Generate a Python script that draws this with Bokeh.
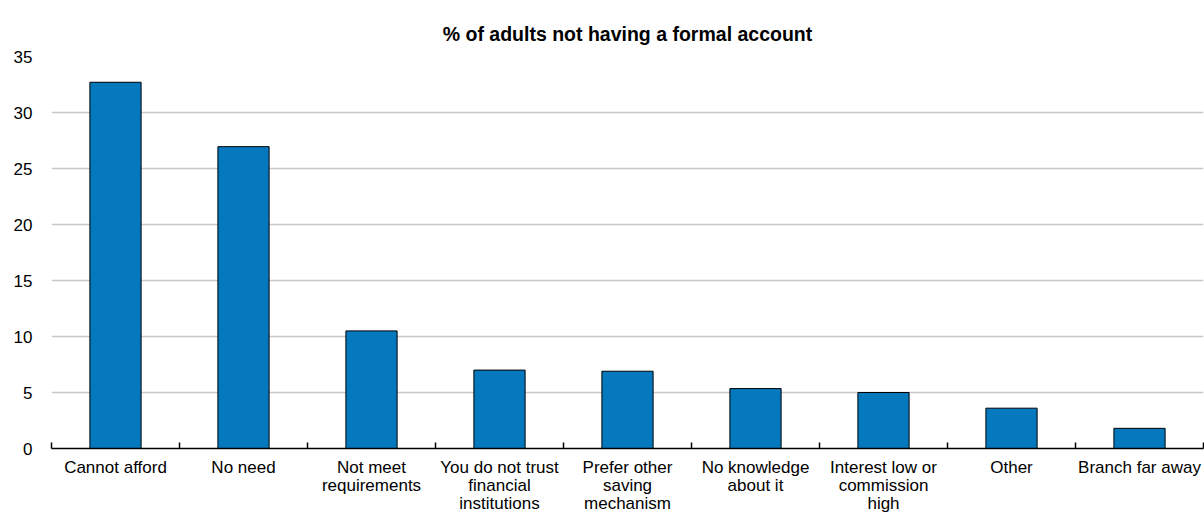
from bokeh.plotting import figure
from bokeh.models import Range1d, FixedTicker, LinearAxis, Grid, ColumnDataSource
from bokeh.embed import file_html
from bokeh.resources import INLINE

title_text = "% of adults not having a formal account"
categories = [
    "Cannot afford",
    "No need",
    "Not meet\nrequirements",
    "You do not trust\nfinancial\ninstitutions",
    "Prefer other\nsaving\nmechanism",
    "No knowledge\nabout it",
    "Interest low or\ncommission\nhigh",
    "Other",
    "Branch far away",
]
values = [32.7, 26.95, 10.5, 7.0, 6.9, 5.35, 5.0, 3.6, 1.8]
y_ticks = [0, 5, 10, 15, 20, 25, 30, 35]

FONT = "Liberation Sans"
n = len(categories)
centers = [i + 0.5 for i in range(n)]
boundaries = list(range(n + 1))

src = ColumnDataSource(dict(x=centers, top=values, label=categories))

p = figure(width=1204, height=525, output_backend="svg", toolbar_location=None,
           x_range=Range1d(0, n), y_range=Range1d(0, 35),
           x_axis_location=None, y_axis_location=None,
           min_border_left=51, min_border_right=1, min_border_top=56,
           min_border_bottom=77, outline_line_color=None)

# remove default grids
p.center = [r for r in p.center if not isinstance(r, Grid)]

p.title.text = title_text
p.title.align = "center"
p.title.text_font = FONT
p.title.text_font_size = "19.5px"
p.title.text_font_style = "bold"
p.title.text_color = "#000000"
p.title.standoff = 24

grid = Grid(dimension=1, ticker=FixedTicker(ticks=y_ticks),
            grid_line_color="#c8c8c8", grid_line_width=1.5)
p.add_layout(grid)

p.vbar(x="x", top="top", width=0.40, bottom=0, source=src,
       fill_color="#0678BE", line_color="#000000", line_width=1)

yax = LinearAxis(ticker=FixedTicker(ticks=y_ticks))
yax.axis_line_color = None
yax.major_tick_line_color = None
yax.minor_tick_line_color = None
yax.major_tick_out = 0
yax.major_tick_in = 0
yax.major_label_standoff = 19
yax.major_label_text_font = FONT
yax.major_label_text_font_size = "17px"
yax.major_label_text_color = "#000000"
p.add_layout(yax, "left")

xax = LinearAxis(ticker=FixedTicker(ticks=centers, minor_ticks=boundaries))
xax.axis_line_color = "#000000"
xax.axis_line_width = 1.5
xax.major_tick_line_color = None
xax.major_tick_out = 0
xax.major_tick_in = 0
xax.minor_tick_line_color = "#000000"
xax.minor_tick_line_width = 1.5
xax.minor_tick_in = 6
xax.minor_tick_out = 0
xax.major_label_standoff = 9
xax.major_label_overrides = {c: lab for c, lab in zip(centers, categories)}
xax.major_label_text_font = FONT
xax.major_label_text_font_size = "17px"
xax.major_label_text_color = "#000000"
xax.major_label_text_line_height = 0.95
p.add_layout(xax, "below")

open("out.html", "w").write(file_html(p, INLINE))
